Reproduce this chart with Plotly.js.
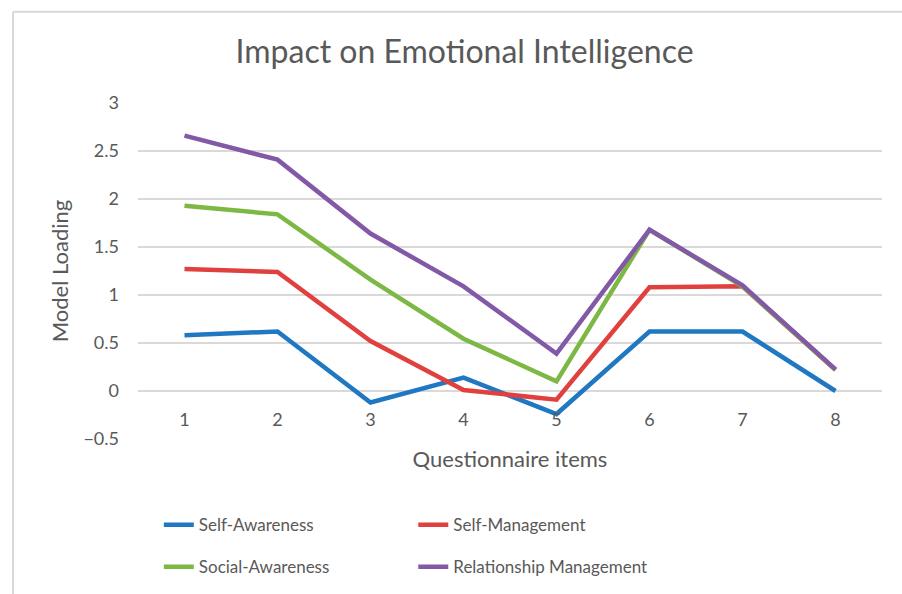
<!DOCTYPE html>
<html>
<head>
<meta charset="utf-8">
<script src="https://cdn.plot.ly/plotly-3.0.1.min.js"></script>
<style>html,body{margin:0;padding:0;background:#fff;}#chart{width:902px;height:594px;}</style>
</head>
<body>
<div id="chart"></div>
<script>
const items = [1, 2, 3, 4, 5, 6, 7, 8];
const selfAwareness = [0.58, 0.62, -0.12, 0.14, -0.24, 0.62, 0.62, 0.0];
const selfManagement = [1.27, 1.24, 0.52, 0.01, -0.09, 1.08, 1.09, 0.22];
const socialAwareness = [1.93, 1.84, 1.16, 0.545, 0.10, 1.68, 1.09, 0.22];
const relationshipManagement = [2.66, 2.41, 1.64, 1.09, 0.39, 1.68, 1.10, 0.225];
const yTicks = [-0.5, 0, 0.5, 1, 1.5, 2, 2.5, 3];
const yTickText = ['\u22120.5', '0', '0.5', '1', '1.5', '2', '2.5', '3'];

const FONT = 'Lato, "Open Sans", sans-serif';
const GREY = '#595959';

function tr(name, y, color, legend, group) {
  return {
    x: items, y: y, name: name, type: 'scatter', mode: 'lines',
    line: {color: color, width: 4.5},
    legend: legend, legendgroup: group, hoverinfo: 'skip'
  };
}

const data = [
  tr('Self-Awareness', selfAwareness, '#1f78c1', 'legend', 'a'),
  tr('Self-Management', selfManagement, '#e0413f', 'legend2', 'b'),
  tr('Social-Awareness', socialAwareness, '#7cb843', 'legend', 'c'),
  tr('Relationship Management', relationshipManagement, '#8259a6', 'legend2', 'd')
];

const legendCommon = {
  orientation: 'v', yanchor: 'top', xanchor: 'left',
  font: {family: FONT, size: 17, color: GREY},
  bgcolor: 'rgba(0,0,0,0)', tracegroupgap: 17, itemwidth: 30
};

const layout = {
  width: 902, height: 594,
  margin: {l: 138, r: 20, t: 103, b: 155, autoexpand: false},
  paper_bgcolor: '#ffffff', plot_bgcolor: '#ffffff',
  showlegend: true,
  title: {
    text: 'Impact on Emotional Intelligence',
    font: {family: FONT, size: 32, color: GREY},
    x: 0.515, xanchor: 'center', xref: 'container',
    y: 0.912, yref: 'container', yanchor: 'middle'
  },
  font: {family: FONT, color: GREY},
  xaxis: {
    range: [0.5, 8.5],
    tickmode: 'array', tickvals: items, ticktext: items.map(String),
    anchor: 'free', position: 0.5 / 3.5,
    showgrid: false, zeroline: false, showline: false,
    ticks: '', ticklabelstandoff: 16,
    tickfont: {family: FONT, size: 18, color: GREY},
    title: {text: 'Questionnaire items', font: {family: FONT, size: 22, color: GREY}, standoff: 22},
    automargin: false,
    fixedrange: true
  },
  yaxis: {
    range: [-0.5, 3],
    tickmode: 'array', tickvals: yTicks, ticktext: yTickText,
    showgrid: true, gridcolor: '#d9d9d9', gridwidth: 1.5,
    zeroline: false, showline: false, ticks: '',
    ticklabelstandoff: 18,
    tickfont: {family: FONT, size: 18, color: GREY},
    title: {text: 'Model Loading', font: {family: FONT, size: 22, color: GREY}, standoff: 8},
    automargin: false,
    fixedrange: true
  },
  legend: Object.assign({}, legendCommon, {x: 0.028, y: -0.203}),
  legend2: Object.assign({}, legendCommon, {x: 0.37, y: -0.203}),
  shapes: [
    {type: 'line', xref: 'paper', yref: 'paper', x0: -0.168, x1: -0.168, y0: 1.2717, y1: -0.47,
     line: {color: '#d9d9d9', width: 2}},
    {type: 'line', xref: 'paper', yref: 'paper', x0: -0.168, x1: 1.03, y0: 1.2717, y1: 1.2717,
     line: {color: '#d9d9d9', width: 2}}
  ]
};

Plotly.newPlot('chart', data, layout, {displayModeBar: false, staticPlot: true});
</script>
</body>
</html>
